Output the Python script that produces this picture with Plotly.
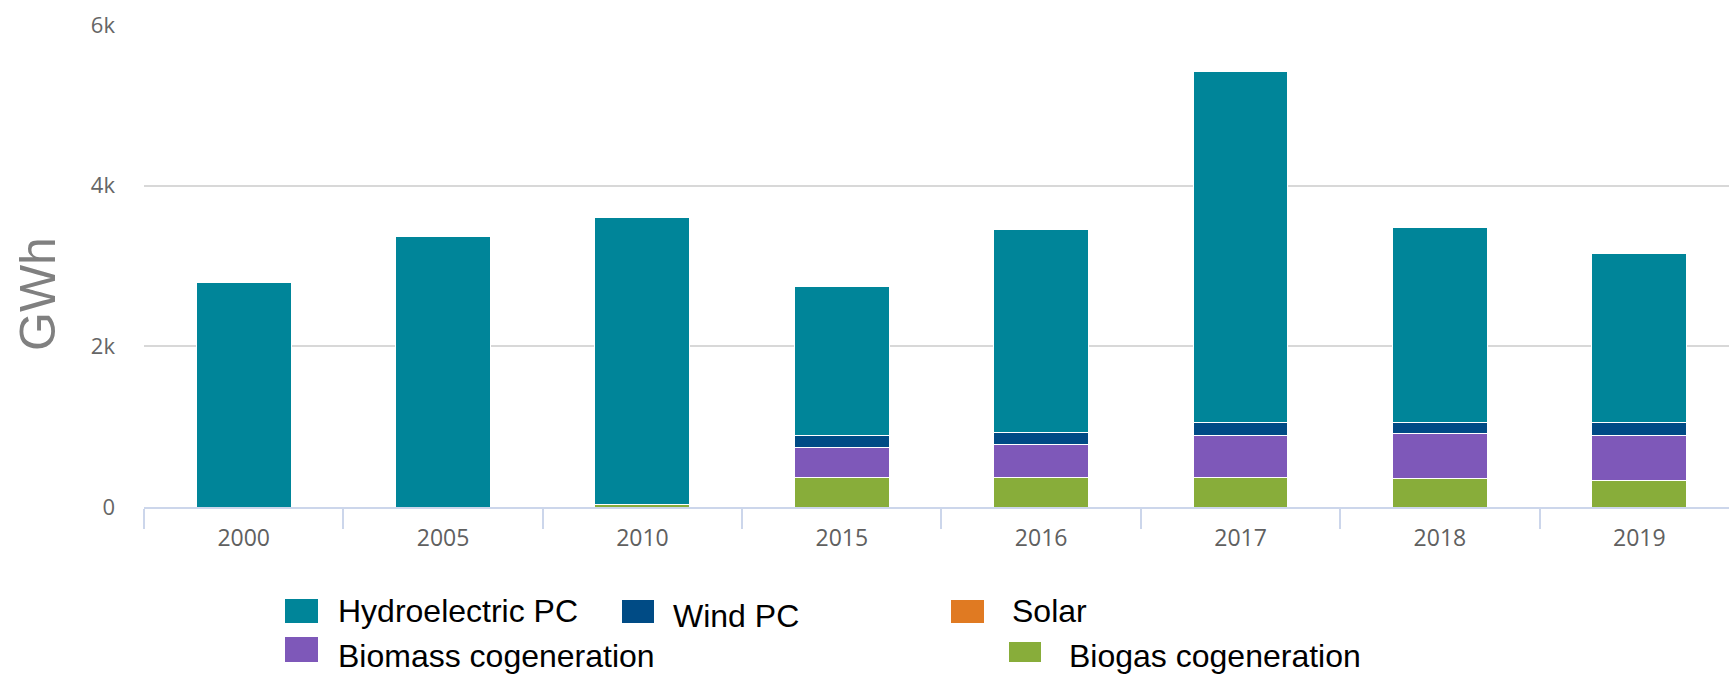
import plotly.graph_objects as go

# ---- data (GWh) ----
years = ["2000", "2005", "2010", "2015", "2016", "2017", "2018", "2019"]
biogas = [0, 0, 30, 365, 365, 365, 349, 324]
solar = [0, 0, 0, 0, 0, 0, 0, 0]
biomass = [0, 0, 0, 373, 419, 523, 568, 564]
wind = [0, 0, 0, 150, 141, 166, 137, 166]
hydro = [2800, 3370, 3577, 1858, 2531, 4365, 2429, 2104]

series_names = ["Hydroelectric PC", "Wind PC", "Solar", "Biomass cogeneration", "Biogas cogeneration"]
colors = {
    "Hydroelectric PC": "#008599",
    "Wind PC": "#004b85",
    "Solar": "#e07a22",
    "Biomass cogeneration": "#7e58b9",
    "Biogas cogeneration": "#88ad3a",
}
y_ticks = [0, 2000, 4000, 6000]
y_ticktext = ["0", "2k", "4k", "6k"]

W, H = 1729, 675
ML, MR, MT, MB = 144, 0, 25, 168
PW = W - ML - MR
PH = H - MT - MB


def px(x):
    return (x - ML) / PW


def py(y):
    return (H - MB - y) / PH


fig = go.Figure()
stack = [
    ("Biogas cogeneration", biogas),
    ("Solar", solar),
    ("Biomass cogeneration", biomass),
    ("Wind PC", wind),
    ("Hydroelectric PC", hydro),
]
for name, vals in stack:
    fig.add_trace(go.Bar(
        x=years, y=vals, name=name,
        marker=dict(color=colors[name], line=dict(color="white", width=1)),
        width=0.476, showlegend=False,
    ))

# ---- custom legend (swatches + labels) ----
legend_items = [
    # name, swatch x0, x1, y0, y1, text x, text y-center
    ("Hydroelectric PC", 285, 318, 599, 623, 336, 611),
    ("Wind PC", 622, 654, 600, 623, 671, 616),
    ("Solar", 951, 984, 600, 623, 1010, 611),
    ("Biomass cogeneration", 285, 318, 637, 662, 336, 656),
    ("Biogas cogeneration", 1009, 1041, 642, 662, 1067, 656),
]
shapes = []
annotations = []
for name, x0, x1, y0, y1, tx, ty in legend_items:
    shapes.append(dict(type="rect", xref="paper", yref="paper",
                       x0=px(x0), x1=px(x1), y0=py(y1), y1=py(y0),
                       fillcolor=colors[name], line=dict(width=0)))
    annotations.append(dict(text=name, xref="paper", yref="paper",
                            x=px(tx), y=py(ty), xanchor="left", yanchor="middle",
                            showarrow=False,
                            font=dict(family="Liberation Sans, Arial", size=32, color="#000000")))

annotations.append(dict(text="GWh", xref="paper", yref="paper",
                        x=px(38), y=py(294), xanchor="center", yanchor="middle",
                        textangle=-90, showarrow=False,
                        font=dict(family="Liberation Sans, Arial", size=50, color="#808080")))

fig.update_layout(
    width=W, height=H,
    margin=dict(l=ML, r=MR, t=MT, b=MB, pad=0),
    barmode="stack",
    plot_bgcolor="white", paper_bgcolor="white",
    shapes=shapes, annotations=annotations,
    showlegend=False,
    xaxis=dict(
        type="category", range=[-0.5, 7.45],
        showline=True, linecolor="#ccd6eb", linewidth=1.5,
        ticks="outside", tickson="boundaries", ticklen=20, tickwidth=1.5, tickcolor="#ccd6eb",
        ticklabelstandoff=10,
        showgrid=False,
        tickfont=dict(family="Open Sans", size=23, color="#606060"),
    ),
    yaxis=dict(
        range=[0, 6000], tickvals=y_ticks, ticktext=y_ticktext,
        showgrid=True, gridcolor="#d8d8d8", gridwidth=1.5,
        zeroline=False, showline=False, ticks="",
        ticklabelstandoff=28,
        tickfont=dict(family="Open Sans", size=22, color="#666666"),
    ),
)

fig.write_html("out.html",
               config={"displayModeBar": False},
               post_script="document.body.style.margin='0';document.body.style.overflow='hidden';")
